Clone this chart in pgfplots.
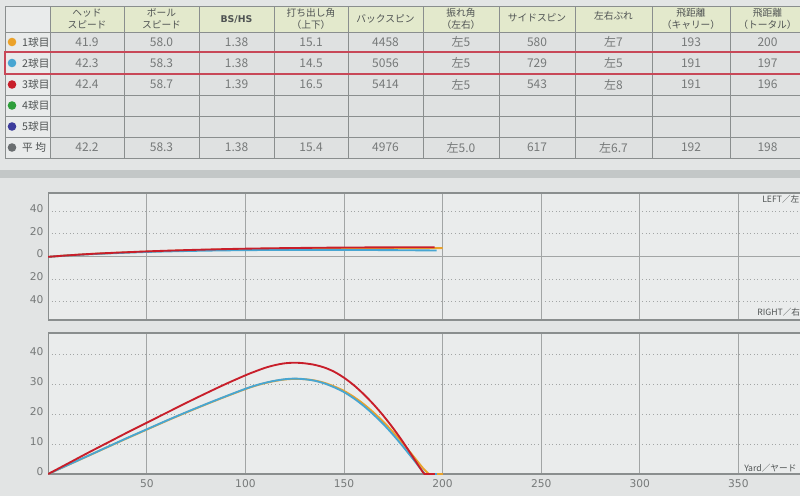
\documentclass[border=0pt]{standalone}
\usepackage{pgfplots}
\pgfplotsset{compat=1.18}
\usepackage{fontspec}
\setmainfont{DejaVu Sans}
\newfontfamily\jp{Noto Sans CJK JP}
\definecolor{bgtop}{HTML}{E3E5E5}
\definecolor{band}{HTML}{C3C7C7}
\definecolor{bgchart}{HTML}{E2E4E4}
\definecolor{axbg}{HTML}{EAECEC}
\definecolor{hdr}{HTML}{E3E9CC}
\definecolor{cellw}{HTML}{E9EBEB}
\definecolor{cell}{HTML}{DFE1E1}
\definecolor{tline}{HTML}{8A8E8E}
\definecolor{txt}{HTML}{767979}
\definecolor{htxt}{HTML}{4F5353}
\definecolor{hl}{HTML}{C84858}
\definecolor{cOr}{HTML}{EBA22A}
\definecolor{cBl}{HTML}{48A6D2}
\definecolor{cRd}{HTML}{C81E2A}
\definecolor{cGr}{HTML}{2E9E3A}
\definecolor{cPu}{HTML}{3C3C9C}
\definecolor{cGy}{HTML}{6A6E70}
\definecolor{gridc}{HTML}{A2A5A5}
\pgfplotsset{trajax/.style={
  scale only axis, width=576.8pt, xmin=0, xmax=390,
  axis background/.style={fill=axbg},
  axis line style={draw=tline, line width=0.8pt},
  xtick={50,100,...,350},
  xmajorgrids=true, ymajorgrids=false, yminorgrids=true,
  major grid style={draw=gridc, line width=0.6pt},
  minor grid style={draw=gridc, line width=0.7pt, dotted},
  major tick length=0pt, minor tick length=0pt,
  tick label style={font=\fontsize{8}{9}\selectfont, text=txt},
  /pgf/number format/assume math mode=true,
  yticklabel style={yshift=2pt},
}}
\begin{document}
\begin{tikzpicture}
\useasboundingbox (0,0) rectangle (600pt,-372pt);
\clip (0,0) rectangle (600pt,-372pt);
\begin{scope}[x=0.75pt,y=-0.75pt]
\fill[bgtop] (-5,-5) rectangle (805,170);
\fill[band] (-5,170) rectangle (805,178);
\fill[bgchart] (-5,178) rectangle (805,500);
% table
\fill[hdr] (50,6) rectangle (805,32);
\fill[cellw] (5,6) rectangle (50,32);
\fill[cell] (50,32) rectangle (805,158);
\fill[cellw] (5,32) rectangle (50,158);
\foreach \x in {5,50,124,199,274,348,423,499,575,652,730} \draw[tline, line width=0.6pt] (\x,6) -- (\x,158);
\foreach \y in {6,32,52,74,95,116,137,158} \draw[tline, line width=0.6pt] (5,\y) -- (805,\y);
\draw[hl, line width=1pt] (805,52) -- (5,52) -- (5,74) -- (805,74);
% headers
\begin{scope}[every node/.style={font=\jp\fontsize{7.3}{8.8}\selectfont, text=htxt, align=center}]
\node at (87,19) {ヘッド\\スピード};
\node at (161.5,19) {ボール\\スピード};
\node[font=\fontsize{7}{8}\selectfont\bfseries] at (236.5,19) {BS/HS};
\node at (311,19) {打ち出し角\\（上下）};
\node at (385.5,19) {バックスピン};
\node at (461,19) {振れ角\\（左右）};
\node at (537,18) {サイドスピン};
\node at (613.5,16) {左右ぶれ};
\node at (691,19) {飛距離\\（キャリー）};
\node at (767.5,19) {飛距離\\（トータル）};
\end{scope}
% row labels
\begin{scope}[every node/.style={font=\jp\fontsize{8}{9}\selectfont, text=htxt, anchor=west}]
\foreach \y/\c/\t in {42/cOr/1球目, 63/cBl/2球目, 84.5/cRd/3球目, 105.5/cGr/4球目, 126.5/cPu/5球目, 147.5/cGy/平\ 均}{
  \fill[\c] (12,\y) circle (4.3);
  \node at (17.5,\y) {\t};
}
\end{scope}
% values
\begin{scope}[every node/.style={font=\jp\fontsize{9}{10}\selectfont, text=txt}]
\foreach \x/\v in {87/41.9,161.5/58.0,236.5/1.38,311/15.1,385.5/4458,461/左5,537/580,613.5/左7,691/193,767.5/200}
  \node at (\x,42) {\v};
\foreach \x/\v in {87/42.3,161.5/58.3,236.5/1.38,311/14.5,385.5/5056,461/左5,537/729,613.5/左5,691/191,767.5/197}
  \node at (\x,63) {\v};
\foreach \x/\v in {87/42.4,161.5/58.7,236.5/1.39,311/16.5,385.5/5414,461/左5,537/543,613.5/左8,691/191,767.5/196}
  \node at (\x,84.5) {\v};
\foreach \x/\v in {87/42.2,161.5/58.3,236.5/1.38,311/15.4,385.5/4976,461/左5.0,537/617,613.5/左6.7,691/192,767.5/198}
  \node at (\x,147.5) {\v};
\end{scope}
\end{scope}

% top axis: lateral deviation
\begin{axis}[trajax, at={(36.15pt,-240pt)}, anchor=south west,
  height=95.25pt, ymin=-56, ymax=56,
  xticklabels={},
  ytick={-40,-20,20,40}, yticklabels={40,20,20,40},
  minor ytick={-40,-20,20,40},
  extra y ticks={0}, extra y tick labels={0},
  extra y tick style={grid=major},
]
\addplot[cOr, line width=1.4pt, smooth] coordinates {(0,-0.3) (10,1.0) (25,2.5) (50,4.3) (75,5.6) (100,6.5) (125,7.0) (150,7.3) (175,7.4) (200,7.4)};
\addplot[cBl, line width=1.4pt, smooth] coordinates {(0,-0.3) (10,0.9) (25,2.3) (50,4.0) (75,5.0) (100,5.6) (125,5.8) (150,5.8) (175,5.6) (197,5.3)};
\addplot[cRd, line width=1.4pt, smooth] coordinates {(0,-0.3) (10,1.0) (25,2.6) (50,4.5) (75,5.9) (100,6.9) (125,7.5) (150,7.9) (175,8.1) (196,8.2)};
\end{axis}

% bottom axis: height
\begin{axis}[trajax, at={(36.15pt,-355.5pt)}, anchor=south west,
  height=105.75pt, ymin=0, ymax=47,
  ytick={0,10,20,30,40},
  minor ytick={10,20,30,40},
  xticklabel style={yshift=-1pt},
]
\addplot[cOr, line width=1.4pt, smooth] coordinates {(0,0) (10,3.0) (20,5.95) (30,8.95) (40,11.9) (50,14.8) (60,17.7) (70,20.5) (80,23.2) (90,25.8) (100,28.3) (105,29.4) (110,30.3) (115,31.0) (120,31.5) (125,31.7) (130,31.6) (135,31.2) (140,30.4) (145,29.2) (150,27.7) (155,25.7) (160,23.3) (165,20.5) (170,17.4) (175,13.9) (180,10.1) (185,6.1) (190,2.0) (193,0)};
\addplot[cOr, line width=1.4pt] coordinates {(193,0) (200,0)};
\addplot[cBl, line width=1.4pt, smooth] coordinates {(0,0) (10,3.0) (20,6.0) (30,9.0) (40,12.0) (50,14.9) (60,17.8) (70,20.6) (80,23.3) (90,25.9) (100,28.4) (105,29.5) (110,30.4) (115,31.1) (120,31.6) (125,31.8) (130,31.6) (135,31.1) (140,30.2) (145,28.9) (150,27.3) (155,25.2) (160,22.7) (165,19.8) (170,16.6) (175,13.0) (180,9.1) (185,5.0) (190,0.8) (191,0)};
\addplot[cBl, line width=1.4pt] coordinates {(191,0) (197,0)};
\addplot[cRd, line width=1.4pt, smooth] coordinates {(0,0) (10,3.5) (20,7.0) (30,10.4) (40,13.8) (50,17.1) (60,20.4) (70,23.7) (80,26.9) (90,30.0) (100,32.9) (105,34.2) (110,35.4) (115,36.3) (120,36.9) (125,37.1) (130,36.9) (135,36.4) (140,35.5) (145,34.1) (150,32.1) (155,29.6) (160,26.6) (165,23.2) (170,19.4) (175,15.2) (180,10.6) (185,5.6) (190,0.6) (191,0)};
\addplot[cRd, line width=1.4pt] coordinates {(191,0) (196,0)};
\end{axis}

\begin{scope}[x=0.75pt,y=-0.75pt, every node/.style={font=\jp\fontsize{6.5}{7}\selectfont, text=htxt, anchor=west, inner sep=0pt}]
\node at (762,199) {LEFT／左};
\node at (757,312) {RIGHT／右};
\node at (744,468) {Yard／ヤード};
\end{scope}
\end{tikzpicture}
\end{document}
